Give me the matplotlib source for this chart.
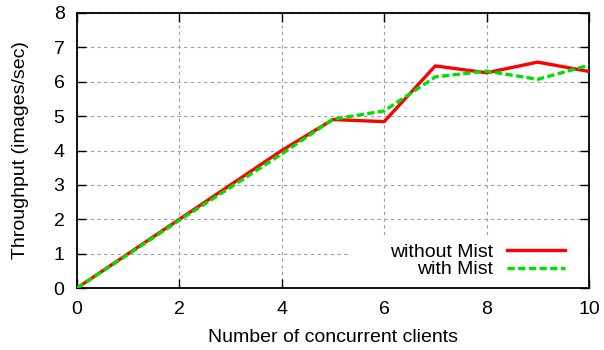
import matplotlib.pyplot as plt
from matplotlib.patches import Rectangle

clients = [0, 1, 2, 3, 4, 5, 6, 7, 8, 9, 10]
without_mist = [0, 1.0, 2.0, 3.0, 4.0, 4.9, 4.84, 6.46, 6.26, 6.57, 6.3]
with_mist = [0, 0.98, 1.97, 2.93, 3.9, 4.91, 5.15, 6.14, 6.31, 6.07, 6.48]

plt.rcParams['font.family'] = ['Liberation Sans', 'DejaVu Sans']

fig = plt.figure(figsize=(6.04, 3.5), dpi=100)
ax = fig.add_axes([0.1275, 0.177, 0.8475, 0.786])

ax.plot(clients, without_mist, color='#ff0000', lw=2.4, label='without Mist', zorder=3)
ax.plot(clients, with_mist, color='#00e000', lw=2.4, ls=(0, (2.2, 1)), label='with Mist', zorder=4)

ax.set_xlim(0, 10)
ax.set_ylim(0, 8)
ax.set_xticks(range(0, 11, 2))
ax.set_yticks(range(0, 9))
ax.tick_params(direction='in', top=True, right=True, length=6.5, width=1, labelsize=14, pad=9)
ax.grid(True, color='#a0a0a0', ls=(0, (3, 3)), lw=0.8)
for s in ax.spines.values():
    s.set_linewidth(1.3)

ax.set_xlabel('Number of concurrent clients', fontsize=14, labelpad=8)
ax.set_ylabel('Throughput (images/sec)', fontsize=14, labelpad=18)

# opaque key area like gnuplot (hides grid behind the legend)
ax.add_patch(Rectangle((0.533, 0), 0.467, 0.182, transform=ax.transAxes,
                       facecolor='white', edgecolor='none', zorder=1.8))

leg = ax.legend(loc='lower right', bbox_to_anchor=(0.953, 0.035), markerfirst=False,
                fontsize=14, frameon=False, borderpad=0, handlelength=3.0,
                handletextpad=0.7, labelspacing=0.0, borderaxespad=0)

fig.savefig('out.png', dpi=100)
